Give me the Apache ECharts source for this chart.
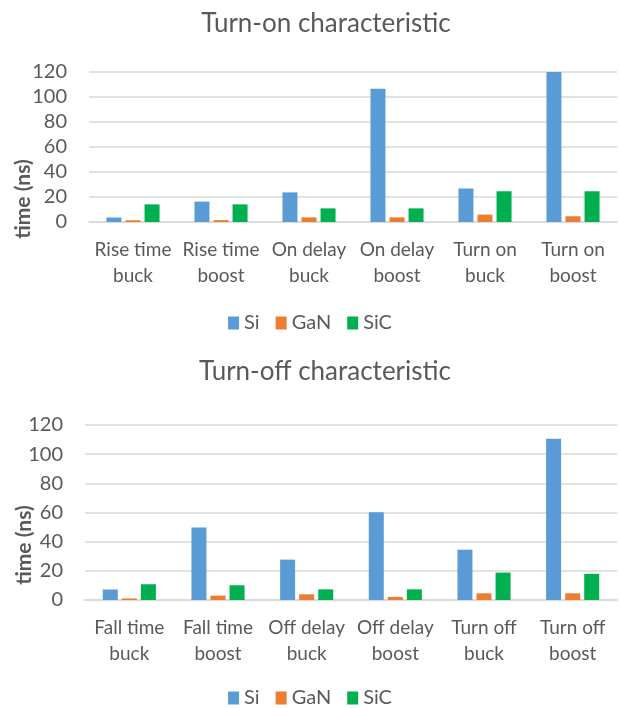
<!DOCTYPE html>
<html>
<head>
<meta charset="utf-8">
<script src="https://cdn.jsdelivr.net/npm/echarts@6/dist/echarts.min.js"></script>
<style>
html,body{margin:0;padding:0;background:#fff;}
#chart{width:620px;height:708px;}
</style>
</head>
<body>
<div id="chart"></div>
<script>
// ---- data ----
var seriesNames = ['Si', 'GaN', 'SiC'];
var catsOn = ['Rise time\nbuck', 'Rise time\nboost', 'On delay\nbuck', 'On delay\nboost', 'Turn on\nbuck', 'Turn on\nboost'];
var onSi  = [3.6, 16.3, 23.7, 106.7, 26.8, 120];
var onGaN = [1.4, 1.5, 3.7, 3.7, 5.9, 4.6];
var onSiC = [14.1, 14.1, 10.9, 10.9, 24.6, 24.6];

var catsOff = ['Fall time\nbuck', 'Fall time\nboost', 'Off delay\nbuck', 'Off delay\nboost', 'Turn off\nbuck', 'Turn off\nboost'];
var offSi  = [7.2, 49.7, 27.7, 60.2, 34.5, 110.5];
var offGaN = [1.1, 3.0, 3.9, 2.1, 4.6, 4.6];
var offSiC = [10.8, 10.1, 7.3, 7.3, 18.8, 17.9];

var titleOn = 'Turn-on characteristic';
var titleOff = 'Turn-off characteristic';
var yName = 'time (ns)';
var yMin = 0, yMax = 120, yStep = 20;

// ---- styling ----
var colors = ['#5B9BD5', '#ED7D31', '#00B050'];
var FONT = 'Lato, "Open Sans", sans-serif';
var TXT = '#595959';
var GRIDC = '#D9D9D9';

function xAxis(gi, cats) {
  return {
    type: 'category', gridIndex: gi, data: cats,
    axisLine: { lineStyle: { color: GRIDC, width: 1.5 } },
    axisTick: { show: false },
    axisLabel: { interval: 0, color: TXT, fontFamily: FONT, fontSize: 19, lineHeight: 26, margin: 15 }
  };
}
function yAxis(gi) {
  return {
    type: 'value', gridIndex: gi, min: yMin, max: yMax, interval: yStep,
    axisLine: { show: false }, axisTick: { show: false },
    axisLabel: { color: TXT, fontFamily: FONT, fontSize: 20, margin: 22 },
    splitLine: { lineStyle: { color: GRIDC, width: 1.5 } }
  };
}
function bars(gi, arrs) {
  return arrs.map(function (d, i) {
    return {
      name: seriesNames[i], type: 'bar', xAxisIndex: gi, yAxisIndex: gi,
      data: d, barWidth: 15, barGap: '27%',
      itemStyle: { color: colors[i] }, emphasis: { disabled: true }, animation: false
    };
  });
}
function legend(top) {
  return {
    data: seriesNames, top: top, left: 'center', icon: 'rect',
    itemWidth: 11, itemHeight: 13, itemGap: 16,
    textStyle: { color: TXT, fontFamily: FONT, fontSize: 20 }
  };
}
function axisName(cx, cy) {
  return {
    type: 'text', x: cx, y: cy, rotation: Math.PI / 2, silent: true,
    style: {
      text: yName, fill: TXT, font: 'bold 21px ' + FONT,
      align: 'center', verticalAlign: 'middle', textAlign: 'center', textVerticalAlign: 'middle'
    }
  };
}

var chart = echarts.init(document.getElementById('chart'), null, { renderer: 'canvas' });
chart.setOption({
  animation: false,
  color: colors,
  title: [
    { text: titleOn, left: 321, textAlign: 'center', top: 6, textStyle: { color: TXT, fontFamily: FONT, fontSize: 26, fontWeight: 'normal' } },
    { text: titleOff, left: 320, textAlign: 'center', top: 354, textStyle: { color: TXT, fontFamily: FONT, fontSize: 26, fontWeight: 'normal' } }
  ],
  legend: [legend(308), legend(683)],
  grid: [
    { left: 89, right: 3, top: 72, height: 150 },
    { left: 85, right: 3, top: 425, height: 175 }
  ],
  xAxis: [xAxis(0, catsOn), xAxis(1, catsOff)],
  yAxis: [yAxis(0), yAxis(1)],
  graphic: [axisName(23, 199), axisName(24, 545)],
  series: bars(0, [onSi, onGaN, onSiC]).concat(bars(1, [offSi, offGaN, offSiC]))
});
</script>
</body>
</html>
